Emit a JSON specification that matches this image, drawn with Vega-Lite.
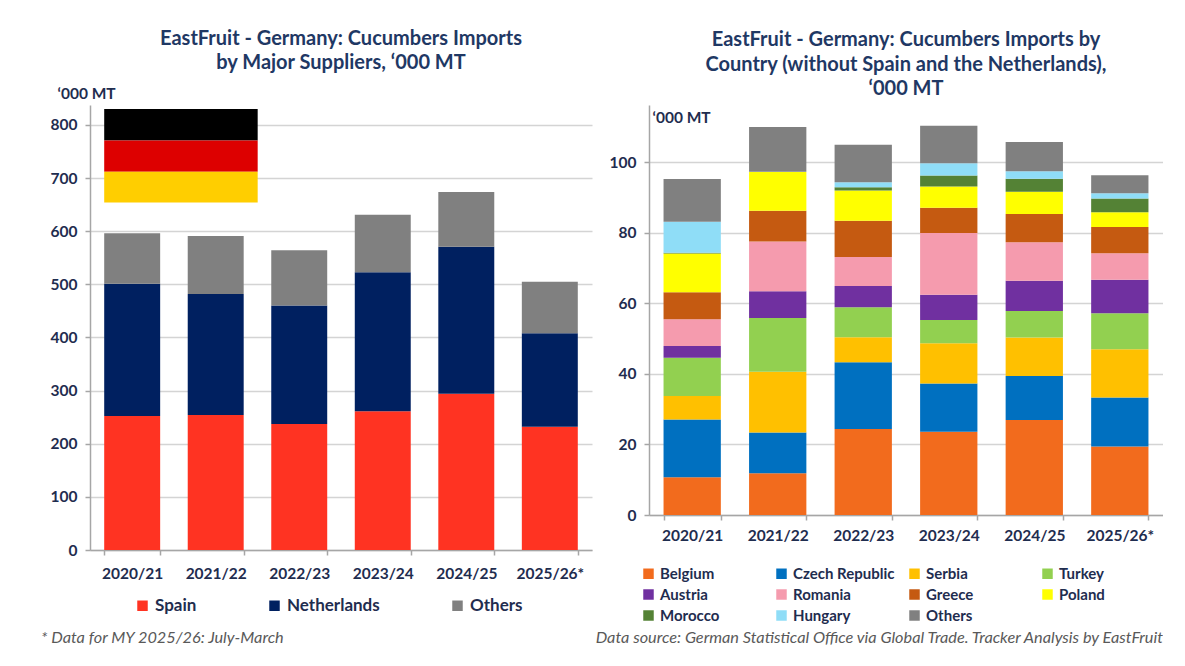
{
  "$schema": "https://vega.github.io/schema/vega-lite/v6.json",
  "description": "EastFruit - Germany cucumber imports, two panels",
  "padding": {"left": 41, "top": 28, "right": 0, "bottom": 0},
  "spacing": 6,
  "datasets": {
    "major": [
      {"season": "2020/21", "supplier": "Spain", "k": 1, "value": 252},
      {"season": "2020/21", "supplier": "Netherlands", "k": 2, "value": 249},
      {"season": "2020/21", "supplier": "Others", "k": 3, "value": 95},
      {"season": "2021/22", "supplier": "Spain", "k": 1, "value": 254},
      {"season": "2021/22", "supplier": "Netherlands", "k": 2, "value": 228},
      {"season": "2021/22", "supplier": "Others", "k": 3, "value": 109},
      {"season": "2022/23", "supplier": "Spain", "k": 1, "value": 237},
      {"season": "2022/23", "supplier": "Netherlands", "k": 2, "value": 223},
      {"season": "2022/23", "supplier": "Others", "k": 3, "value": 104},
      {"season": "2023/24", "supplier": "Spain", "k": 1, "value": 261},
      {"season": "2023/24", "supplier": "Netherlands", "k": 2, "value": 262},
      {"season": "2023/24", "supplier": "Others", "k": 3, "value": 108},
      {"season": "2024/25", "supplier": "Spain", "k": 1, "value": 294},
      {"season": "2024/25", "supplier": "Netherlands", "k": 2, "value": 277},
      {"season": "2024/25", "supplier": "Others", "k": 3, "value": 103},
      {"season": "2025/26*", "supplier": "Spain", "k": 1, "value": 232},
      {"season": "2025/26*", "supplier": "Netherlands", "k": 2, "value": 176},
      {"season": "2025/26*", "supplier": "Others", "k": 3, "value": 97}
    ],
    "flag": [
      {"from": "2020/21", "to": "2021/22", "stripe": "black", "lo": 771, "hi": 830},
      {"from": "2020/21", "to": "2021/22", "stripe": "red", "lo": 712, "hi": 771},
      {"from": "2020/21", "to": "2021/22", "stripe": "gold", "lo": 654, "hi": 712}
    ],
    "country": [
      {"season": "2020/21", "country": "Belgium", "k": 1, "value": 10.7},
      {"season": "2020/21", "country": "Czech Republic", "k": 2, "value": 16.4},
      {"season": "2020/21", "country": "Serbia", "k": 3, "value": 6.6},
      {"season": "2020/21", "country": "Turkey", "k": 4, "value": 10.9},
      {"season": "2020/21", "country": "Austria", "k": 5, "value": 3.3},
      {"season": "2020/21", "country": "Romania", "k": 6, "value": 7.6},
      {"season": "2020/21", "country": "Greece", "k": 7, "value": 7.6},
      {"season": "2020/21", "country": "Poland", "k": 8, "value": 11.0},
      {"season": "2020/21", "country": "Morocco", "k": 9, "value": 0.2},
      {"season": "2020/21", "country": "Hungary", "k": 10, "value": 8.8},
      {"season": "2020/21", "country": "Others", "k": 11, "value": 12.1},
      {"season": "2021/22", "country": "Belgium", "k": 1, "value": 11.8},
      {"season": "2021/22", "country": "Czech Republic", "k": 2, "value": 11.6},
      {"season": "2021/22", "country": "Serbia", "k": 3, "value": 17.2},
      {"season": "2021/22", "country": "Turkey", "k": 4, "value": 15.2},
      {"season": "2021/22", "country": "Austria", "k": 5, "value": 7.6},
      {"season": "2021/22", "country": "Romania", "k": 6, "value": 14.1},
      {"season": "2021/22", "country": "Greece", "k": 7, "value": 8.7},
      {"season": "2021/22", "country": "Poland", "k": 8, "value": 11.0},
      {"season": "2021/22", "country": "Morocco", "k": 9, "value": 0},
      {"season": "2021/22", "country": "Hungary", "k": 10, "value": 0.1},
      {"season": "2021/22", "country": "Others", "k": 11, "value": 12.7},
      {"season": "2022/23", "country": "Belgium", "k": 1, "value": 24.4},
      {"season": "2022/23", "country": "Czech Republic", "k": 2, "value": 18.9},
      {"season": "2022/23", "country": "Serbia", "k": 3, "value": 7.1},
      {"season": "2022/23", "country": "Turkey", "k": 4, "value": 8.5},
      {"season": "2022/23", "country": "Austria", "k": 5, "value": 6.0},
      {"season": "2022/23", "country": "Romania", "k": 6, "value": 8.2},
      {"season": "2022/23", "country": "Greece", "k": 7, "value": 10.3},
      {"season": "2022/23", "country": "Poland", "k": 8, "value": 8.6},
      {"season": "2022/23", "country": "Morocco", "k": 9, "value": 0.9},
      {"season": "2022/23", "country": "Hungary", "k": 10, "value": 1.4},
      {"season": "2022/23", "country": "Others", "k": 11, "value": 10.6},
      {"season": "2023/24", "country": "Belgium", "k": 1, "value": 23.6},
      {"season": "2023/24", "country": "Czech Republic", "k": 2, "value": 13.7},
      {"season": "2023/24", "country": "Serbia", "k": 3, "value": 11.4},
      {"season": "2023/24", "country": "Turkey", "k": 4, "value": 6.6},
      {"season": "2023/24", "country": "Austria", "k": 5, "value": 7.1},
      {"season": "2023/24", "country": "Romania", "k": 6, "value": 17.5},
      {"season": "2023/24", "country": "Greece", "k": 7, "value": 7.2},
      {"season": "2023/24", "country": "Poland", "k": 8, "value": 6.0},
      {"season": "2023/24", "country": "Morocco", "k": 9, "value": 3.1},
      {"season": "2023/24", "country": "Hungary", "k": 10, "value": 3.5},
      {"season": "2023/24", "country": "Others", "k": 11, "value": 10.6},
      {"season": "2024/25", "country": "Belgium", "k": 1, "value": 26.9},
      {"season": "2024/25", "country": "Czech Republic", "k": 2, "value": 12.5},
      {"season": "2024/25", "country": "Serbia", "k": 3, "value": 10.9},
      {"season": "2024/25", "country": "Turkey", "k": 4, "value": 7.5},
      {"season": "2024/25", "country": "Austria", "k": 5, "value": 8.6},
      {"season": "2024/25", "country": "Romania", "k": 6, "value": 10.9},
      {"season": "2024/25", "country": "Greece", "k": 7, "value": 8.0},
      {"season": "2024/25", "country": "Poland", "k": 8, "value": 6.3},
      {"season": "2024/25", "country": "Morocco", "k": 9, "value": 3.7},
      {"season": "2024/25", "country": "Hungary", "k": 10, "value": 2.1},
      {"season": "2024/25", "country": "Others", "k": 11, "value": 8.3},
      {"season": "2025/26*", "country": "Belgium", "k": 1, "value": 19.4},
      {"season": "2025/26*", "country": "Czech Republic", "k": 2, "value": 13.9},
      {"season": "2025/26*", "country": "Serbia", "k": 3, "value": 13.7},
      {"season": "2025/26*", "country": "Turkey", "k": 4, "value": 10.2},
      {"season": "2025/26*", "country": "Austria", "k": 5, "value": 9.5},
      {"season": "2025/26*", "country": "Romania", "k": 6, "value": 7.5},
      {"season": "2025/26*", "country": "Greece", "k": 7, "value": 7.4},
      {"season": "2025/26*", "country": "Poland", "k": 8, "value": 4.2},
      {"season": "2025/26*", "country": "Morocco", "k": 9, "value": 3.9},
      {"season": "2025/26*", "country": "Hungary", "k": 10, "value": 1.5},
      {"season": "2025/26*", "country": "Others", "k": 11, "value": 5.1}
    ],
    "blank": [{}]
  },
  "vconcat": [
    {
      "hconcat": [
        {
          "width": 502,
          "height": 445,
          "title": {
            "text": ["EastFruit - Germany: Cucumbers Imports", "by Major Suppliers, ‘000 MT"],
            "offset": 13
          },
          "layer": [
            {
              "data": {"name": "major"},
              "mark": {"type": "bar"},
              "encoding": {
                "x": {
                  "field": "season", "type": "nominal", "title": null,
                  "scale": {"paddingInner": 0.33, "paddingOuter": 0.17},
                  "axis": {"labelAngle": 0, "tickBand": "extent", "bandPosition": 0.5, "tickSize": 5, "labelPadding": 11, "grid": false}
                },
                "y": {
                  "field": "value", "type": "quantitative", "stack": "zero",
                  "scale": {"domain": [0, 837.6], "nice": false},
                  "axis": {
                    "values": [0, 100, 200, 300, 400, 500, 600, 700, 800],
                    "title": "‘000 MT", "titleAngle": 0, "titleAlign": "left", "titleBaseline": "middle",
                    "titleX": -33, "titleY": -12
                  }
                },
                "order": {"field": "k", "type": "quantitative"},
                "color": {
                  "field": "supplier", "type": "nominal", "title": null,
                  "scale": {"domain": ["Spain", "Netherlands", "Others"], "range": ["#FF3322", "#002060", "#808080"]},
                  "legend": {"orient": "none", "legendX": 44, "legendY": 492, "direction": "horizontal", "columns": 3, "columnPadding": 69, "labelFontSize": 17}
                }
              }
            },
            {
              "data": {"name": "flag"},
              "mark": {"type": "rect"},
              "encoding": {
                "x": {"field": "from", "type": "nominal", "bandPosition": 0},
                "x2": {"field": "to", "bandPosition": 1.25},
                "y": {"field": "lo", "type": "quantitative"},
                "y2": {"field": "hi"},
                "color": {
                  "field": "stripe", "type": "nominal", "legend": null,
                  "scale": {"domain": ["black", "red", "gold"], "range": ["#000000", "#DD0000", "#FFCE00"]}
                }
              }
            }
          ],
          "resolve": {"scale": {"color": "independent"}, "legend": {"color": "independent"}}
        },
        {
          "width": 514,
          "height": 410,
          "title": {
            "text": ["EastFruit - Germany: Cucumbers Imports by", "Country (without Spain and the Netherlands),", "‘000 MT"],
            "offset": 6
          },
          "data": {"name": "country"},
          "mark": {"type": "bar"},
          "encoding": {
            "x": {
              "field": "season", "type": "nominal", "title": null,
              "scale": {"paddingInner": 0.33, "paddingOuter": 0.17},
              "axis": {"labelAngle": 0, "tickBand": "extent", "tickSize": 5, "labelPadding": 8, "grid": false}
            },
            "y": {
              "field": "value", "type": "quantitative", "stack": "zero",
              "scale": {"domain": [0, 116.2], "nice": false},
              "axis": {
                "values": [0, 20, 40, 60, 80, 100],
                "title": "‘000 MT", "titleAngle": 0, "titleAlign": "left", "titleBaseline": "middle",
                "titleX": 3, "titleY": 12
              }
            },
            "order": {"field": "k", "type": "quantitative"},
            "color": {
              "field": "country", "type": "nominal", "title": null,
              "scale": {
                "domain": ["Belgium", "Czech Republic", "Serbia", "Turkey", "Austria", "Romania", "Greece", "Poland", "Morocco", "Hungary", "Others"],
                "range": ["#F26B1D", "#0070C0", "#FFC000", "#92D050", "#7030A0", "#F59BAE", "#C55A11", "#FFFF00", "#548235", "#8FDDF7", "#808080"]
              },
              "legend": {"orient": "none", "legendX": -8, "legendY": 461, "direction": "horizontal", "columns": 4, "gridAlign": "all", "columnPadding": 12, "rowPadding": 5, "labelFontSize": 15}
            }
          }
        }
      ],
      "spacing": 17,
      "resolve": {"scale": {"color": "independent"}, "legend": {"color": "independent"}}
    },
    {
      "hconcat": [
        {
          "width": 200,
          "height": 1,
          "data": {"name": "blank"},
          "mark": {"type": "text"},
          "title": {
            "text": "* Data for MY 2025/26: July-March", "anchor": "start", "dx": -49,
            "font": "Lato", "fontSize": 16.3, "fontStyle": "italic", "fontWeight": "normal", "color": "#595959"
          }
        },
        {
          "width": 840,
          "height": 1,
          "data": {"name": "blank"},
          "mark": {"type": "text"},
          "title": {
            "text": "Data source: German Statistical Office via Global Trade. Tracker Analysis by EastFruit", "anchor": "end",
            "font": "Lato", "fontSize": 16.3, "fontStyle": "italic", "fontWeight": "normal", "color": "#595959"
          }
        }
      ],
      "spacing": 33
    }
  ],
  "config": {
    "background": "#FFFFFF",
    "font": "Lato",
    "view": {"stroke": null},
    "title": {
      "font": "Lato", "fontSize": 20, "fontWeight": "bold", "color": "#1F3864",
      "lineHeight": 24.5, "anchor": "middle"
    },
    "axis": {
      "labelFont": "Lato", "labelFontSize": 15.5, "labelFontWeight": "bold", "labelColor": "#1F2D4F",
      "titleFont": "Lato", "titleFontSize": 15.5, "titleFontWeight": "bold", "titleColor": "#1F2D4F",
      "domainColor": "#A6A6A6", "domainWidth": 1.5, "tickColor": "#A6A6A6", "tickWidth": 1.5,
      "gridColor": "#D4D4D4", "gridWidth": 1.5
    },
    "axisY": {"tickSize": 5, "labelPadding": 8, "grid": true},
    "legend": {
      "labelFont": "Lato", "labelFontWeight": "bold", "labelColor": "#1F2D4F",
      "symbolType": "square", "symbolSize": 110, "symbolStrokeWidth": 0, "labelOffset": 4
    }
  }
}
